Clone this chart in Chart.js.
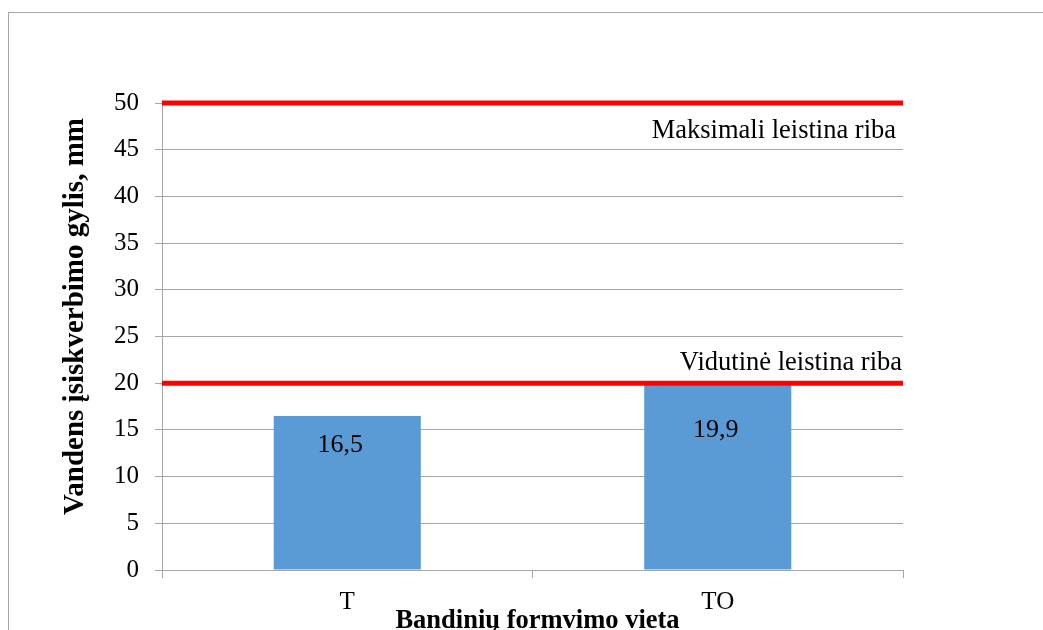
<!DOCTYPE html>
<html>
<head>
<meta charset="utf-8">
<script src="https://cdn.jsdelivr.net/npm/chart.js@4.4.0/dist/chart.umd.min.js"></script>
<style>
  html, body { margin: 0; padding: 0; background: #fff; overflow: hidden; }
  #wrap { position: relative; width: 1043px; height: 630px; overflow: hidden; }
  #frame { position: absolute; left: 8px; top: 12px; width: 1100px; height: 700px;
           border: 1px solid #a6a6a6; box-sizing: border-box; pointer-events: none; }
  canvas { position: absolute; left: 0; top: 0; }
</style>
</head>
<body>
<div id="wrap">
  <canvas id="chart" width="1043" height="630"></canvas>
  <div id="frame"></div>
</div>
<script>
// Sample formation sites and measured water penetration depth (mm)
const categories = ['T', 'TO'];
const depthValues = [16.5, 19.9];
const depthLabels = ['16,5', '19,9'];

// Permitted limits (mm)
const maxLimit = 50;
const avgLimit = 20;
const limitNames = ['Maksimali leistina riba', 'Vidutinė leistina riba'];

// Y axis range
const yMin = 0;
const yMax = 50;
const yStep = 5;

const xTitle = 'Bandinių formvimo vieta';
const yTitle = 'Vandens įsiskverbimo gylis, mm';

const SERIF = '"Liberation Serif", "Times New Roman", serif';
const GRID = '#a6a6a6';

// Writes the bar values inside the bars
const barValueLabels = {
  id: 'barValueLabels',
  afterDatasetsDraw(chart, args, opts) {
    const meta = chart.getDatasetMeta(opts.datasetIndex);
    const ctx = chart.ctx;
    ctx.save();
    ctx.font = '26px ' + SERIF;
    ctx.fillStyle = '#000';
    ctx.textAlign = 'center';
    ctx.textBaseline = 'middle';
    meta.data.forEach((bar, i) => {
      ctx.fillText(depthLabels[i], bar.x + opts.dx[i], bar.y + opts.dy[i]);
    });
    ctx.restore();
  }
};

// Names the two limit lines, placed relative to their y value
const limitLabels = {
  id: 'limitLabels',
  afterDatasetsDraw(chart, args, opts) {
    const y = chart.scales.y;
    const area = chart.chartArea;
    const ctx = chart.ctx;
    ctx.save();
    ctx.font = '26.5px ' + SERIF;
    ctx.fillStyle = '#000';
    ctx.textAlign = 'right';
    ctx.textBaseline = 'middle';
    ctx.fillText(limitNames[0], area.right - 7, y.getPixelForValue(maxLimit) + 28);
    ctx.fillText(limitNames[1], area.right - 1, y.getPixelForValue(avgLimit) - 20);
    ctx.restore();
  }
};

// Axis titles
const axisTitles = {
  id: 'axisTitles',
  afterDraw(chart) {
    const area = chart.chartArea;
    const ctx = chart.ctx;
    ctx.save();
    ctx.fillStyle = '#000';
    ctx.font = 'bold 26.5px ' + SERIF;
    ctx.textAlign = 'center';
    ctx.textBaseline = 'alphabetic';
    ctx.fillText(xTitle, (area.left + area.right) / 2 + 5, chart.height - 2);
    ctx.translate(76, (area.top + area.bottom) / 2 - 20);
    ctx.rotate(-Math.PI / 2);
    ctx.font = 'bold 29px ' + SERIF;
    ctx.textBaseline = 'middle';
    ctx.fillText(yTitle, 0, 0);
    ctx.restore();
  }
};

const yTickValues = [];
for (let v = yMin; v <= yMax; v += yStep) yTickValues.push(v);

new Chart(document.getElementById('chart'), {
  type: 'bar',
  data: {
    labels: categories,
    datasets: [
      {
        type: 'line',
        xAxisID: 'xLimit',
        yAxisID: 'y',
        data: [{ x: 0, y: maxLimit }, { x: 1, y: maxLimit }],
        borderColor: '#ff0000',
        borderWidth: 5,
        pointRadius: 0,
        clip: false,
        order: 0
      },
      {
        type: 'line',
        xAxisID: 'xLimit',
        yAxisID: 'y',
        data: [{ x: 0, y: avgLimit }, { x: 1, y: avgLimit }],
        borderColor: '#ff0000',
        borderWidth: 5,
        pointRadius: 0,
        clip: false,
        order: 0
      },
      {
        type: 'bar',
        xAxisID: 'x',
        yAxisID: 'y',
        data: depthValues,
        backgroundColor: '#5b9bd5',
        grouped: false,
        categoryPercentage: 1,
        barPercentage: 0.397,
        order: 1
      }
    ]
  },
  options: {
    responsive: false,
    animation: false,
    devicePixelRatio: 1,
    layout: { padding: { top: 103, left: 62, right: 140, bottom: 0 } },
    plugins: {
      legend: { display: false },
      tooltip: { enabled: false },
      barValueLabels: { datasetIndex: 2, dx: [-7, -2], dy: [29, 46] }
    },
    scales: {
      x: {
        type: 'category',
        position: 'bottom',
        offset: true,
        grid: { offset: true, drawOnChartArea: false, tickLength: 8, color: GRID, lineWidth: 1 },
        border: { color: GRID, width: 1 },
        ticks: { color: '#000', font: { family: SERIF, size: 25 }, padding: 9, maxRotation: 0 },
        afterFit(scale) { scale.height = 60; }
      },
      xLimit: {
        type: 'linear',
        position: 'bottom',
        min: 0,
        max: 1,
        offset: false,
        grid: { offset: false },
        display: false
      },
      y: {
        type: 'linear',
        min: yMin,
        max: yMax,
        afterBuildTicks(scale) { scale.ticks = yTickValues.map(v => ({ value: v })); },
        grid: { tickLength: 7, color: GRID, lineWidth: 1 },
        border: { color: GRID, width: 1 },
        ticks: { color: '#000', font: { family: SERIF, size: 25 }, padding: 16 },
        afterFit(scale) { scale.width = 100; }
      }
    }
  },
  plugins: [barValueLabels, limitLabels, axisTitles]
});
</script>
</body>
</html>
